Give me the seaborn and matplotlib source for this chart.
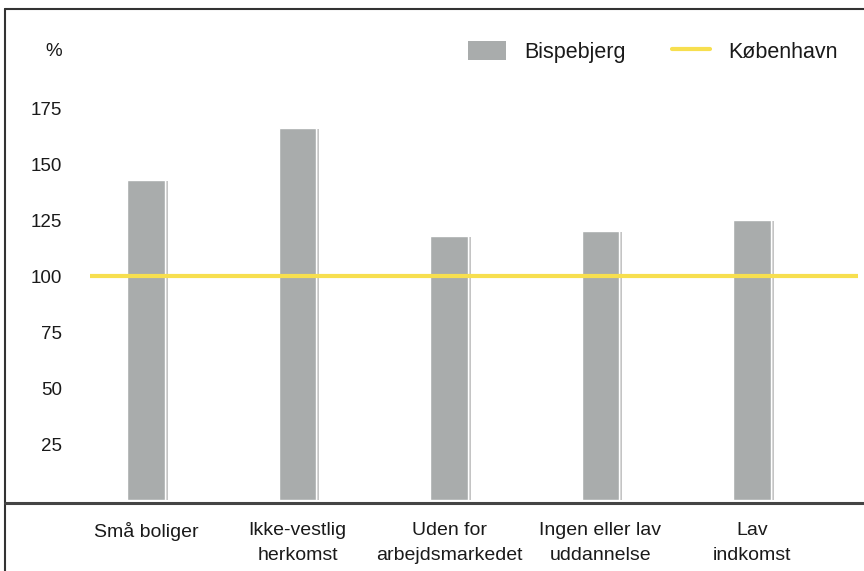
import matplotlib
matplotlib.use('Agg')
import matplotlib.pyplot as plt
import matplotlib.patheffects as pe
from matplotlib.lines import Line2D
from matplotlib.patches import Patch
import seaborn as sns

# data
categories = ['Små boliger', 'Ikke-vestlig\nherkomst', 'Uden for\narbejdsmarkedet',
              'Ingen eller lav\nuddannelse', 'Lav\nindkomst']
bispebjerg = [143, 166, 118, 120, 125]
koebenhavn = 100
yticks = [25, 50, 75, 100, 125, 150, 175]

bar_col = '#a9acac'
yellow = '#f7df4f'

sns.set_style('white')
plt.rcParams['font.family'] = ['Liberation Sans', 'DejaVu Sans']
plt.rcParams['text.color'] = '#1a1a1a'
plt.rcParams['xtick.color'] = '#1a1a1a'
plt.rcParams['ytick.color'] = '#1a1a1a'

W, H = 864, 571
fig = plt.figure(figsize=(W / 100, H / 100), dpi=100)
ax = fig.add_axes([90 / W, (H - 500) / H, 768 / W, 470 / H])

sns.barplot(x=categories, y=bispebjerg, color=bar_col, width=0.25, saturation=1, ax=ax)
for p in ax.patches:
    p.set_path_effects([pe.withSimplePatchShadow(offset=(2, -0.5), shadow_rgbFace='#c4c4c4', alpha=1), pe.Normal()])

ax.axhline(koebenhavn, color=yellow, lw=3, zorder=5)

ax.set_xlim(-0.37, 4.70)
ax.set_ylim(0, 210)
ax.set_yticks(yticks)
ax.set_yticklabels([str(t) for t in yticks], fontsize=13.5)
ax.tick_params(axis='y', length=0, pad=20)
ax.tick_params(axis='x', length=0, pad=16, labelsize=14)
for lbl in ax.get_xticklabels():
    lbl.set_linespacing(1.6)
for s in ax.spines.values():
    s.set_visible(False)
ax.set_xlabel('')
ax.set_ylabel('')

fig.text(62 / W, 1 - 52 / H, '%', ha='right', va='center', fontsize=13.5)

handles = [Patch(facecolor=bar_col, edgecolor='none', label='Bispebjerg'),
           Line2D([0], [0], color=yellow, lw=3, label='København')]
fig.legend(handles=handles, loc='center right', bbox_to_anchor=(857 / W, 1 - 52 / H),
           ncol=2, frameon=False, fontsize=15.5, handlelength=1.75, handleheight=1.0,
           handletextpad=0.85, columnspacing=2.15)

# frame lines and baseline
fig.add_artist(Line2D([5 / W, 5 / W], [0, 1 - 9 / H], transform=fig.transFigure, color='#333333', lw=1.5))
fig.add_artist(Line2D([5 / W, 1], [1 - 9 / H, 1 - 9 / H], transform=fig.transFigure, color='#333333', lw=1.5))
fig.add_artist(Line2D([5 / W, 1], [1 - 503 / H, 1 - 503 / H], transform=fig.transFigure, color='#444444', lw=2.2))

fig.savefig('out.png', dpi=100)
